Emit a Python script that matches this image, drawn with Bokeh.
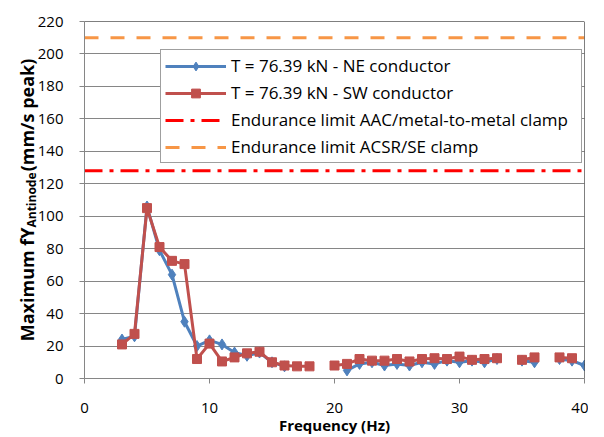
from bokeh.plotting import figure
from bokeh.models import (Range1d, Span, Legend, LegendItem, FixedTicker,
                          ColumnDataSource, LinearAxis)
from bokeh.embed import file_html
from bokeh.resources import INLINE

nan = float("nan")

freq = list(range(3, 41))
ne_vals = [24, 26, 106, 79, 64, 35, 20, 23.5, 21, 16, 14, 16, 10, 7.5,
           nan, nan, nan, nan, 5, 9, 10, 8, 9, 8, 10, 9, 11, 10, 11, 10, 12,
           nan, 11, 10, nan, 12, 11, 8]
sw_vals = [21, 27.5, 105, 81, 72.5, 70.5, 12, 21.5, 10.5, 13, 15.5, 16.5, 10, 8,
           7.5, 7.5, nan, 8, 9, 12, 11, 11, 12, 10.5, 12, 12.5, 12, 13.5, 11.5, 12, 12.5,
           nan, 11.5, 13, nan, 13, 12.5, nan]
limit_aac = 128
limit_acsr = 210
x_ticks = [0, 10, 20, 30, 40]
y_ticks = list(range(0, 221, 20))

FONT = "Open Sans"
BLUE = "#4F81BD"
RED = "#C0504D"
NB = "\u00a0"

p = figure(width=588, height=437, output_backend="svg", toolbar_location=None,
           x_range=Range1d(0, 40), y_range=Range1d(0, 220),
           min_border_left=84, min_border_right=4, min_border_top=21, min_border_bottom=59)
p.outline_line_color = None
p.xgrid.grid_line_color = None
p.ygrid.grid_line_color = "#868686"
p.xaxis.ticker = FixedTicker(ticks=x_ticks)
p.yaxis.ticker = FixedTicker(ticks=y_ticks)
for ax in (p.xaxis[0], p.yaxis[0]):
    ax.axis_line_color = "#868686"
    ax.major_tick_line_color = "#868686"
    ax.minor_tick_line_color = None
    ax.major_tick_out = 5
    ax.major_tick_in = 0
    ax.major_label_text_font = FONT
    ax.major_label_text_font_size = "15px"
    ax.major_label_text_color = "#000000"
    ax.axis_label_text_font = FONT
    ax.axis_label_text_font_style = "bold"
    ax.axis_label_text_color = "#000000"
p.xaxis.major_label_standoff = 19
p.yaxis.major_label_standoff = 16
p.xaxis.axis_label = "Frequency (Hz)"
p.xaxis.axis_label_text_font_size = "15px"
p.xaxis.axis_label_standoff = -1

# subscript part of the y label, on the main y axis
p.yaxis.axis_label = "Antinode"
p.yaxis.axis_label_text_font_size = "12px"
p.yaxis.axis_label_standoff = -5

# main part of the y label on an outer, otherwise invisible axis
lab_axis = LinearAxis(ticker=FixedTicker(ticks=[]), axis_line_color=None,
                      major_tick_line_color=None, minor_tick_line_color=None,
                      major_label_text_font_size="0px",
                      axis_label="Maximum fY" + NB * 12 + "(mm/s peak)",
                      axis_label_text_font=FONT, axis_label_text_font_style="bold",
                      axis_label_text_font_size="18px", axis_label_text_color="#000000",
                      axis_label_standoff=-19)
p.add_layout(lab_axis, "left")

p.add_layout(Span(location=220, dimension="width", line_color="black", line_width=1))
p.add_layout(Span(location=40, dimension="height", line_color="black", line_width=1))

src = ColumnDataSource(dict(f=freq, ne=ne_vals, sw=sw_vals))
ne_line = p.line("f", "ne", source=src, line_color=BLUE, line_width=3)
ne_pts = p.scatter("f", "ne", source=src, marker="diamond", size=11, fill_color=BLUE, line_color=BLUE)
sw_line = p.line("f", "sw", source=src, line_color=RED, line_width=3)
sw_pts = p.scatter("f", "sw", source=src, marker="square", size=9, fill_color=RED, line_color=RED)
aac = p.line([0, 40], [limit_aac, limit_aac], line_color="#FF0000", line_width=3, line_dash="18 7 4 7")
acsr = p.line([0, 40], [limit_acsr, limit_acsr], line_color="#F79646", line_width=3, line_dash="14 12")

legend = Legend(items=[
    LegendItem(label="T = 76.39 kN - NE conductor", renderers=[ne_line, ne_pts]),
    LegendItem(label="T = 76.39 kN - SW conductor", renderers=[sw_line, sw_pts]),
    LegendItem(label="Endurance limit AAC/metal-to-metal clamp", renderers=[aac]),
    LegendItem(label="Endurance limit ACSR/SE clamp", renderers=[acsr]),
], location=(76, 215))
legend.label_text_font = FONT
legend.label_text_font_size = "17px"
legend.label_text_color = "#000000"
legend.glyph_width = 61
legend.glyph_height = 22
legend.label_height = 22
legend.label_width = 346
legend.spacing = 4
legend.padding = 4
legend.margin = 0
legend.label_standoff = 5
legend.border_line_color = "#404040"
legend.background_fill_alpha = 1
p.add_layout(legend, "center")

open("out.html", "w").write(file_html(p, INLINE))
